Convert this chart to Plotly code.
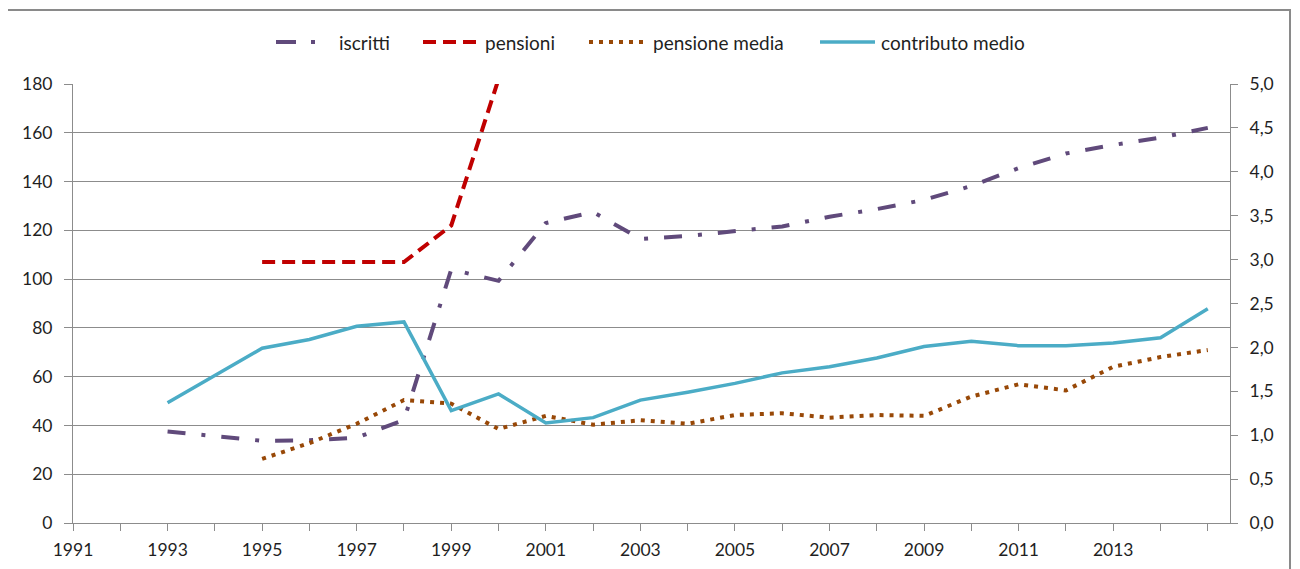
import plotly.graph_objects as go

years = list(range(1993, 2016))
iscritti = [37.5, 35.5, 33.7, 33.9, 35.0, 42.2, 104.0, 99.3, 123.0, 127.5, 116.5, 117.7,
            119.5, 121.6, 125.6, 128.7, 132.5, 138.2, 145.5, 151.5, 155.0, 158.0, 162.0]
contributo_medio = [1.37, 1.68, 1.99, 2.09, 2.24, 2.29, 1.28, 1.47, 1.14, 1.20, 1.40, 1.49,
                    1.59, 1.71, 1.78, 1.88, 2.01, 2.07, 2.02, 2.02, 2.05, 2.11, 2.44]
years_pm = list(range(1995, 2016))
pensione_media = [0.73, 0.91, 1.13, 1.40, 1.36, 1.07, 1.22, 1.12, 1.17, 1.13, 1.23, 1.25,
                  1.20, 1.23, 1.22, 1.44, 1.58, 1.51, 1.78, 1.89, 1.97]
years_pens = [1995, 1996, 1997, 1998, 1999, 2000]
pensioni = [107, 107, 107, 107, 122, 182]

series_names = ["iscritti", "pensioni", "pensione media", "contributo medio"]

tick_years = list(range(1991, 2016))
tick_text = [str(y) if (y % 2 == 1 and y <= 2013) else "" for y in tick_years]

FONT = "Lato, Open Sans, sans-serif"
TXT = "#1f1f1f"
GRID = "#8c8c8c"

# styles
COL = ["#604A7B", "#C00000", "#984807", "#4BACC6"]
DASH = ["18px,16px,4px,16px", "13px,7px", "4px,6px", "solid"]
WID = [4, 4, 4, 3.5]

# figure geometry (page offset of 8px from body margin)
W, H = 1292, 561
ML, MR, MT, MB = 65, 70, 76, 46
OFF = 8
PL, PR = ML + OFF, W + OFF - MR
PT, PB = MT + OFF, H + OFF - MB


def px(x):
    return (x - PL) / (PR - PL)


def py(y):
    return (PB - y) / (PB - PT)


fig = go.Figure()
fig.add_trace(go.Scatter(x=years, y=iscritti, name=series_names[0], mode="lines",
                         line=dict(color=COL[0], width=WID[0], dash=DASH[0])))
fig.add_trace(go.Scatter(x=years_pens, y=pensioni, name=series_names[1], mode="lines",
                         line=dict(color=COL[1], width=WID[1], dash=DASH[1])))
fig.add_trace(go.Scatter(x=years_pm, y=pensione_media, name=series_names[2], mode="lines",
                         yaxis="y2", line=dict(color=COL[2], width=WID[2], dash=DASH[2])))
fig.add_trace(go.Scatter(x=years, y=contributo_medio, name=series_names[3], mode="lines",
                         yaxis="y2", line=dict(color=COL[3], width=WID[3], dash=DASH[3])))

# manual legend (page pixel positions)
leg_sym = [(276, 316), (423, 478), (589, 647), (820, 875)]
leg_txt = [337, 483, 651, 879]
leg_dash = ["20px,15px,4px,10px", "13px,7px", "4px,6px", "solid"]
LEG_Y = 42

shapes = [dict(type="rect", xref="paper", yref="paper", x0=px(5.7), x1=px(1290),
               y0=py(580), y1=py(10), line=dict(color="#8a8a8a", width=2), layer="below")]
annotations = []
for i, name in enumerate(series_names):
    x0, x1 = leg_sym[i]
    shapes.append(dict(type="line", xref="paper", yref="paper", x0=px(x0), x1=px(x1),
                       y0=py(LEG_Y), y1=py(LEG_Y),
                       line=dict(color=COL[i], width=WID[i], dash=leg_dash[i])))
    annotations.append(dict(text=name, xref="paper", yref="paper", x=px(leg_txt[i]), y=py(LEG_Y),
                            xanchor="left", yanchor="middle", showarrow=False,
                            font=dict(family=FONT, size=19, color=TXT)))

fig.update_layout(
    width=W, height=H,
    margin=dict(l=ML, r=MR, t=MT, b=MB, autoexpand=False),
    paper_bgcolor="white", plot_bgcolor="white",
    separators=",.",
    font=dict(family=FONT, size=17, color=TXT),
    showlegend=False,
    xaxis=dict(range=[1991, 2015.47], tickmode="array", tickvals=tick_years, ticktext=tick_text,
               ticks="outside", ticklen=7, tickcolor=GRID, showgrid=False, zeroline=False,
               showline=True, linecolor=GRID, linewidth=1, tickfont=dict(size=17.5),
               ticklabelstandoff=4),
    yaxis=dict(range=[0, 180], dtick=20, ticks="outside", ticklen=8, tickcolor=GRID,
               showgrid=True, gridcolor=GRID, gridwidth=1, zeroline=False,
               showline=True, linecolor=GRID, linewidth=1, tickfont=dict(size=17.5),
               ticklabelstandoff=8),
    yaxis2=dict(range=[0, 5], dtick=0.5, tickformat=".1f", overlaying="y", side="right",
                ticks="outside", ticklen=7, tickcolor=GRID, showgrid=False, zeroline=False,
                showline=True, linecolor=GRID, linewidth=1, tickfont=dict(size=17.5),
                ticklabelstandoff=8),
    shapes=shapes,
    annotations=annotations,
)

fig.write_html("out.html")
